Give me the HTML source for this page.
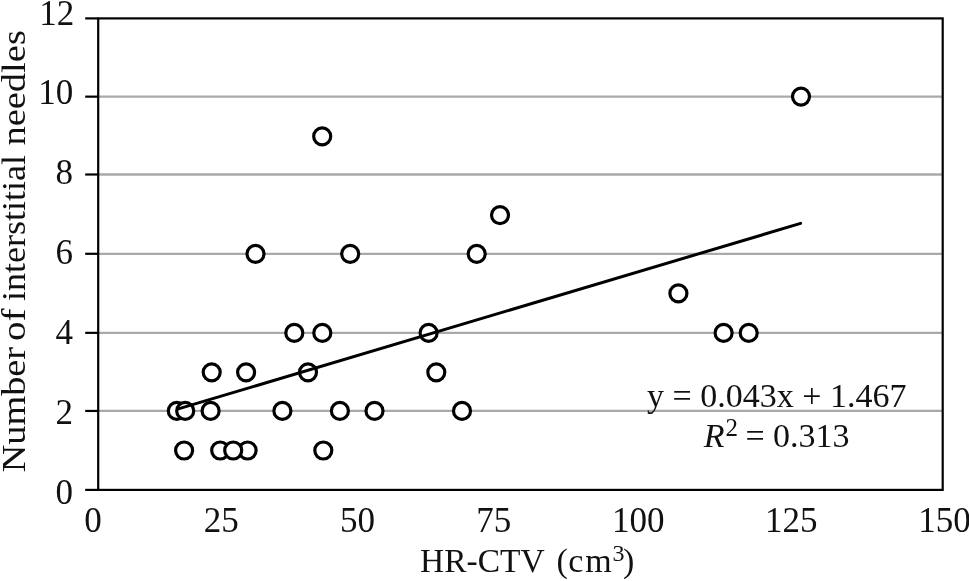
<!DOCTYPE html>
<html><head><meta charset="utf-8"><title>Scatter</title>
<style>html,body{margin:0;padding:0;background:#fff}svg{display:block}text{font-family:"Liberation Serif",serif;fill:#111}</style></head><body>
<svg width="969" height="581" viewBox="0 0 969 581">
<rect width="969" height="581" fill="#fff"/>
<line x1="98" y1="96.65" x2="943" y2="96.65" stroke="#a9a9a9" stroke-width="2.3"/>
<line x1="98" y1="174.5" x2="943" y2="174.5" stroke="#a9a9a9" stroke-width="2.3"/>
<line x1="98" y1="253.8" x2="943" y2="253.8" stroke="#a9a9a9" stroke-width="2.3"/>
<line x1="98" y1="332.85" x2="943" y2="332.85" stroke="#a9a9a9" stroke-width="2.3"/>
<line x1="98" y1="410.95" x2="943" y2="410.95" stroke="#a9a9a9" stroke-width="2.3"/>
<rect x="98.2" y="18.4" width="844.5" height="471.5" fill="none" stroke="#000" stroke-width="2.2"/>
<line x1="85.2" y1="18.4" x2="98.2" y2="18.4" stroke="#000" stroke-width="2.2"/>
<line x1="85.2" y1="96.65" x2="98.2" y2="96.65" stroke="#000" stroke-width="2.2"/>
<line x1="85.2" y1="174.5" x2="98.2" y2="174.5" stroke="#000" stroke-width="2.2"/>
<line x1="85.2" y1="253.8" x2="98.2" y2="253.8" stroke="#000" stroke-width="2.2"/>
<line x1="85.2" y1="332.85" x2="98.2" y2="332.85" stroke="#000" stroke-width="2.2"/>
<line x1="85.2" y1="410.95" x2="98.2" y2="410.95" stroke="#000" stroke-width="2.2"/>
<line x1="85.2" y1="489.9" x2="98.2" y2="489.9" stroke="#000" stroke-width="2.2"/>
<circle cx="184.1" cy="450.5" r="8.5" fill="#fff" stroke="#000" stroke-width="3.2"/>
<circle cx="220.2" cy="450.5" r="8.5" fill="#fff" stroke="#000" stroke-width="3.2"/>
<circle cx="247.6" cy="450.5" r="8.5" fill="#fff" stroke="#000" stroke-width="3.2"/>
<circle cx="233.2" cy="450.5" r="8.5" fill="#fff" stroke="#000" stroke-width="3.2"/>
<circle cx="323.3" cy="450.5" r="8.5" fill="#fff" stroke="#000" stroke-width="3.2"/>
<circle cx="176.8" cy="410.9" r="8.5" fill="#fff" stroke="#000" stroke-width="3.2"/>
<circle cx="185.2" cy="410.9" r="8.5" fill="#fff" stroke="#000" stroke-width="3.2"/>
<circle cx="210.6" cy="410.9" r="8.5" fill="#fff" stroke="#000" stroke-width="3.2"/>
<circle cx="282.4" cy="410.9" r="8.5" fill="#fff" stroke="#000" stroke-width="3.2"/>
<circle cx="339.9" cy="410.9" r="8.5" fill="#fff" stroke="#000" stroke-width="3.2"/>
<circle cx="374.5" cy="410.9" r="8.5" fill="#fff" stroke="#000" stroke-width="3.2"/>
<circle cx="462.0" cy="410.9" r="8.5" fill="#fff" stroke="#000" stroke-width="3.2"/>
<circle cx="211.7" cy="372.3" r="8.5" fill="#fff" stroke="#000" stroke-width="3.2"/>
<circle cx="246.1" cy="372.3" r="8.5" fill="#fff" stroke="#000" stroke-width="3.2"/>
<circle cx="308.0" cy="372.3" r="8.5" fill="#fff" stroke="#000" stroke-width="3.2"/>
<circle cx="436.3" cy="372.3" r="8.5" fill="#fff" stroke="#000" stroke-width="3.2"/>
<circle cx="294.3" cy="332.9" r="8.5" fill="#fff" stroke="#000" stroke-width="3.2"/>
<circle cx="322.3" cy="332.9" r="8.5" fill="#fff" stroke="#000" stroke-width="3.2"/>
<circle cx="428.6" cy="332.9" r="8.5" fill="#fff" stroke="#000" stroke-width="3.2"/>
<circle cx="723.6" cy="332.9" r="8.5" fill="#fff" stroke="#000" stroke-width="3.2"/>
<circle cx="748.7" cy="332.9" r="8.5" fill="#fff" stroke="#000" stroke-width="3.2"/>
<circle cx="678.4" cy="293.4" r="8.5" fill="#fff" stroke="#000" stroke-width="3.2"/>
<circle cx="255.5" cy="253.8" r="8.5" fill="#fff" stroke="#000" stroke-width="3.2"/>
<circle cx="350.2" cy="253.8" r="8.5" fill="#fff" stroke="#000" stroke-width="3.2"/>
<circle cx="476.7" cy="253.8" r="8.5" fill="#fff" stroke="#000" stroke-width="3.2"/>
<circle cx="500.0" cy="215.1" r="8.5" fill="#fff" stroke="#000" stroke-width="3.2"/>
<circle cx="322.2" cy="136.4" r="8.5" fill="#fff" stroke="#000" stroke-width="3.2"/>
<circle cx="801.0" cy="96.6" r="8.5" fill="#fff" stroke="#000" stroke-width="3.2"/>
<line x1="178.3" y1="408.9" x2="800.6" y2="223.4" stroke="#000" stroke-width="3" stroke-linecap="round"/>
<text x="74.3" y="24.5" font-size="35" text-anchor="end">12</text>
<text x="73.2" y="104.3" font-size="35" text-anchor="end">10</text>
<text x="73" y="184.3" font-size="35" text-anchor="end">8</text>
<text x="73" y="264.2" font-size="35" text-anchor="end">6</text>
<text x="73" y="344.0" font-size="35" text-anchor="end">4</text>
<text x="73" y="424.0" font-size="35" text-anchor="end">2</text>
<text x="73" y="504.0" font-size="35" text-anchor="end">0</text>
<text x="93" y="532" font-size="35" text-anchor="middle">0</text>
<text x="221.3" y="532" font-size="35" text-anchor="middle">25</text>
<text x="357.5" y="532" font-size="35" text-anchor="middle">50</text>
<text x="493.7" y="532" font-size="35" text-anchor="middle">75</text>
<text x="638.2" y="532" font-size="35" text-anchor="middle">100</text>
<text x="791.3" y="532" font-size="35" text-anchor="middle">125</text>
<text x="944.5" y="532" font-size="35" text-anchor="middle">150</text>
<text id="ytitle" transform="translate(24.6 0) rotate(-90)" font-size="34"><tspan x="-472.3" textLength="125.3" lengthAdjust="spacingAndGlyphs">Number</tspan> <tspan x="-341" textLength="32.5" lengthAdjust="spacingAndGlyphs">of</tspan> <tspan x="-301" textLength="146" lengthAdjust="spacingAndGlyphs">interstitial</tspan> <tspan x="-145.6" textLength="115.5" lengthAdjust="spacingAndGlyphs">needles</tspan></text>
<text id="xtitle" y="572" font-size="34"><tspan x="420" textLength="124" lengthAdjust="spacingAndGlyphs">HR-CTV</tspan> <tspan x="556.5">(</tspan><tspan x="568.3">c</tspan><tspan x="585.2">m</tspan><tspan font-size="24" dy="-11.2" x="612.6">3</tspan><tspan dy="11.2" x="623.1">)</tspan></text>
<text id="eq1" x="647" y="406.8" font-size="34" textLength="259.5" lengthAdjust="spacingAndGlyphs">y = 0.043x + 1.467</text>
<text id="eq2" y="446.6" font-size="34"><tspan x="703.7" font-style="italic">R</tspan><tspan font-size="25" dy="-10.6" x="725.5">2</tspan> <tspan dy="10.6" x="745.5">=</tspan> <tspan x="773">0.313</tspan></text>
</svg></body></html>
